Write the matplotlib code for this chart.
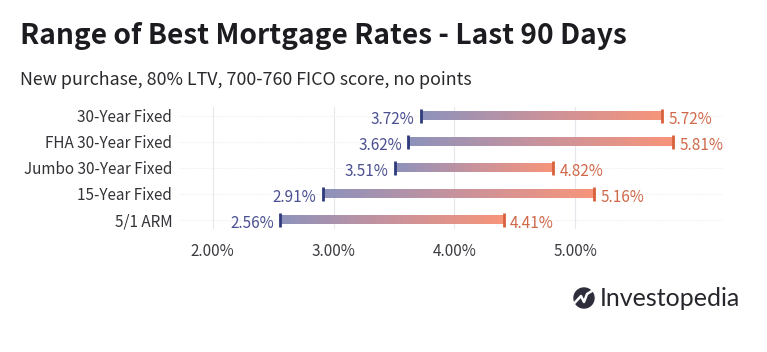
#!/usr/bin/env python3
"""Range of best mortgage rates, last 90 days."""

import numpy as np
import matplotlib
matplotlib.use('Agg')
import matplotlib.pyplot as plt
from matplotlib.colors import LinearSegmentedColormap
from matplotlib.patches import Circle

plt.rcParams['font.family'] = ['Noto Sans CJK SC', 'DejaVu Sans']

# Data
products = ['30-Year Fixed', 'FHA 30-Year Fixed', 'Jumbo 30-Year Fixed',
            '15-Year Fixed', '5/1 ARM']
low_rates = [3.72, 3.62, 3.51, 2.91, 2.56]
high_rates = [5.72, 5.81, 4.82, 5.16, 4.41]
x_ticks = [2, 3, 4, 5]

NAVY = '#2f3a7c'
BLUE_TEXT = '#4a5090'
RED = '#d8613c'
RED_TEXT = '#d0694a'
GRID = '#e6e6ec'
W, H = 767, 352

cmap = LinearSegmentedColormap.from_list('range', ['#8d92bc', '#c9929c', '#f7957a'])
gradient = np.linspace(0, 1, 256).reshape(1, -1)

fig = plt.figure(figsize=(W / 100, H / 100), dpi=100, facecolor='white')
ax = fig.add_axes([180 / W, 1 - 229 / H, (723 - 180) / W, (229 - 107) / H])
ax.set_axisbelow(True)

for tick in x_ticks:
    ax.axvline(tick, color=GRID, linewidth=0.8, zorder=1)

for i, (low, high) in enumerate(zip(low_rates, high_rates)):
    ax.axhline(i, color='#efeff2', linewidth=0.8, linestyle=(0, (1, 1)), zorder=1)
    ax.imshow(gradient, cmap=cmap, aspect='auto', zorder=2,
              extent=(low, high, i + 0.17, i - 0.17))
    ax.plot([low, low], [i - 0.27, i + 0.27], color=NAVY, linewidth=2,
            solid_capstyle='butt', zorder=3)
    ax.plot([high, high], [i - 0.27, i + 0.27], color=RED, linewidth=2,
            solid_capstyle='butt', zorder=3)
    ax.annotate(f'{low:.2f}%', (low, i), xytext=(-4.5, -3), textcoords='offset points',
                ha='right', va='center', fontsize=11, color=BLUE_TEXT)
    ax.annotate(f'{high:.2f}%', (high, i), xytext=(4.5, -3), textcoords='offset points',
                ha='left', va='center', fontsize=11, color=RED_TEXT)

# imshow resets the limits
ax.set_xlim(1.729, 6.224)
ax.set_ylim(4.36, -0.335)

ax.set_yticks(range(len(products)))
ax.set_yticklabels(products, fontsize=11, color='#333338')
ax.set_xticks(x_ticks)
ax.set_xticklabels([f'{t:.2f}%' for t in x_ticks], fontsize=11, color='#3c3c42')
ax.tick_params(length=0)
ax.tick_params(axis='y', pad=5.5)
ax.tick_params(axis='x', pad=10)
for spine in ax.spines.values():
    spine.set_visible(False)

# Headings
fig.text(20 / W, 1 - 35.5 / H, 'Range of Best Mortgage Rates - Last 90 Days',
         fontsize=20.3, fontweight='bold', color='#1c1c20', va='center', ha='left')
fig.text(20 / W, 1 - 80 / H, 'New purchase, 80% LTV, 700-760 FICO score, no points',
         fontsize=12.85, color='#2a2a2e', va='center', ha='left')

# Logo
logo = fig.add_axes([0, 0, 1, 1], facecolor='none')
logo.set_xlim(0, W)
logo.set_ylim(H, 0)
logo.axis('off')
logo.add_patch(Circle((584, 298), 10, color='#2d2d3c', zorder=1))
logo.plot([574.5, 581, 584, 587, 593.5], [303, 296, 302, 294, 290], color='white',
          linewidth=1.8, zorder=2)
logo.text(600, 298.5, 'Investopedia', family='Lato', fontsize=18, color='#26262c',
          va='center', ha='left')

fig.savefig('out.png', dpi=100, facecolor='white')
